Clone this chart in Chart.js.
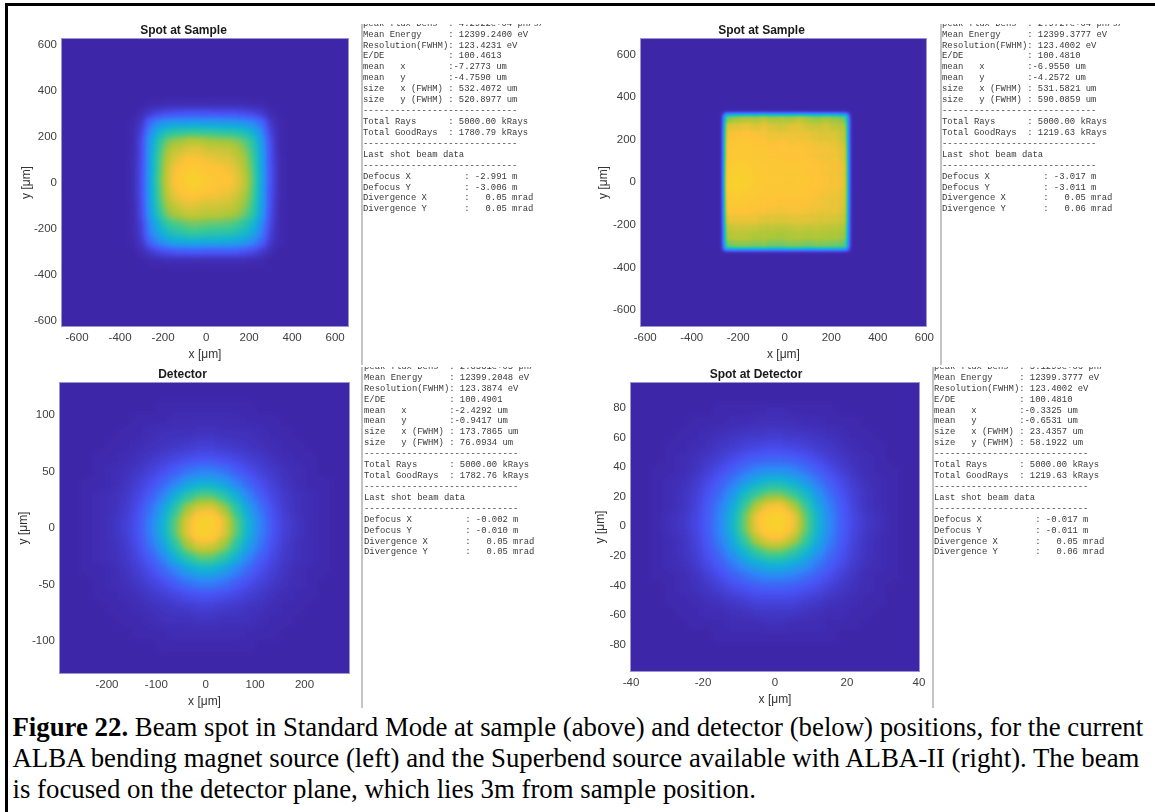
<!DOCTYPE html>
<html>
<head>
<meta charset="utf-8">
<title>Figure 22</title>
<script src="https://cdn.jsdelivr.net/npm/chart.js@4/dist/chart.umd.js"></script>
<style>
  html, body { margin: 0; padding: 0; background: #fff; }
  body { position: relative; width: 1155px; height: 812px; overflow: hidden; }
  .edge { position: absolute; background: #000; }
  .rule { position: absolute; background: #c4c4c4; width: 2px; }
  .panel { position: absolute; }
  .readout { position: absolute; overflow: hidden; width: 200px; height: 230px; }
  .readout pre {
    position: absolute; left: 0; margin: 0;
    font: 8.9px/10.92px "Liberation Mono", monospace;
    color: #3a3a3a; filter: blur(0.3px);
  }
  #caption {
    position: absolute; left: 12.5px; top: 712.3px; white-space: nowrap;
    font: 26.8px/30.7px "Liberation Serif", serif; color: #000;
  }
</style>
</head>
<body>
<div class="edge" style="left:5px;top:3px;width:1150px;height:2.5px"></div>
<div class="edge" style="left:5px;top:3px;width:2.5px;height:809px"></div>
<div class="rule" style="left:361px;top:24px;height:341px"></div>
<div class="rule" style="left:361px;top:367px;height:341px"></div>
<div class="rule" style="left:940px;top:24px;height:341px"></div>
<div class="rule" style="left:932px;top:367px;height:341px"></div>

<canvas class="panel" id="sampleBending" style="left:19px;top:20px" width="341" height="342"></canvas>
<canvas class="panel" id="sampleSuperbend" style="left:596px;top:20px" width="343" height="342"></canvas>
<canvas class="panel" id="detectorBending" style="left:16px;top:364px" width="345" height="345"></canvas>
<canvas class="panel" id="detectorSuperbend" style="left:593px;top:364px" width="338" height="343"></canvas>

<div class="readout" style="left:363px;top:24px"><pre id="readout1" style="top:-5.3px"></pre></div>
<div class="readout" style="left:942px;top:24px"><pre id="readout2" style="top:-5.3px"></pre></div>
<div class="readout" style="left:364px;top:367px"><pre id="readout3" style="top:-5.2px"></pre></div>
<div class="readout" style="left:934px;top:367px"><pre id="readout4" style="top:-5.2px"></pre></div>

<div id="caption"><b>Figure 22.</b> Beam spot in Standard Mode at sample (above) and detector (below) positions, for the current<br>ALBA bending magnet source (left) and the Superbend source available with ALBA-II (right). The beam<br>is focused on the detector plane, which lies 3m from sample position.</div>

<script>
// tick labels of the four plots
const sampleBendingXTicks = [-600, -400, -200, 0, 200, 400, 600];
const sampleBendingYTicks = [-600, -400, -200, 0, 200, 400, 600];
const sampleSuperbendXTicks = [-600, -400, -200, 0, 200, 400, 600];
const sampleSuperbendYTicks = [-600, -400, -200, 0, 200, 400, 600];
const detectorBendingXTicks = [-200, -100, 0, 100, 200];
const detectorBendingYTicks = [-100, -50, 0, 50, 100];
const detectorSuperbendXTicks = [-40, -20, 0, 20, 40];
const detectorSuperbendYTicks = [-80, -60, -40, -20, 0, 20, 40, 60, 80];

// intensity, 0-100, rows from top to bottom
const sampleBendingGrid = [
  [0, 0, 1, 1, 2, 2, 2, 2, 2, 2, 2, 2, 2, 2, 1, 1, 0, 0],
  [0, 2, 6, 9, 11, 12, 13, 13, 13, 13, 12, 12, 12, 10, 9, 6, 2, 0],
  [1, 5, 19, 27, 30, 31, 31, 32, 31, 31, 31, 30, 29, 28, 25, 18, 5, 1],
  [1, 8, 26, 38, 45, 48, 49, 50, 49, 49, 48, 47, 46, 43, 37, 25, 8, 1],
  [1, 10, 31, 47, 57, 61, 63, 65, 64, 62, 62, 61, 59, 54, 46, 30, 10, 1],
  [1, 10, 32, 50, 62, 67, 69, 71, 70, 68, 68, 67, 64, 59, 49, 32, 11, 1],
  [2, 10, 33, 52, 65, 71, 75, 75, 74, 73, 71, 71, 67, 62, 51, 33, 11, 2],
  [2, 11, 33, 53, 67, 75, 78, 80, 78, 76, 76, 74, 70, 64, 53, 33, 12, 2],
  [2, 11, 34, 54, 68, 76, 81, 84, 81, 79, 77, 77, 72, 66, 54, 34, 12, 2],
  [2, 11, 33, 53, 67, 75, 79, 82, 80, 77, 75, 75, 71, 65, 53, 33, 12, 2],
  [2, 11, 33, 52, 65, 72, 75, 75, 74, 73, 73, 71, 68, 62, 52, 33, 11, 2],
  [1, 10, 32, 50, 62, 67, 70, 71, 69, 69, 68, 68, 65, 60, 50, 32, 11, 1],
  [1, 10, 31, 47, 58, 63, 66, 67, 66, 65, 65, 63, 61, 56, 47, 31, 10, 1],
  [1, 8, 27, 39, 49, 53, 55, 57, 56, 55, 55, 54, 52, 47, 40, 26, 9, 1],
  [1, 7, 24, 34, 42, 46, 48, 50, 49, 48, 47, 47, 44, 41, 34, 23, 7, 1],
  [1, 5, 17, 25, 31, 34, 35, 36, 35, 35, 35, 34, 33, 30, 25, 16, 5, 1],
  [0, 2, 6, 10, 12, 14, 14, 15, 15, 14, 14, 14, 14, 12, 10, 6, 2, 0],
  [0, 0, 1, 1, 2, 2, 2, 2, 2, 2, 2, 2, 2, 2, 1, 1, 0, 0]
];
const sampleSuperbendGrid = [
  [58, 61, 63, 62, 65, 62, 63, 62, 65, 62, 60, 62, 60, 57],
  [70, 71, 72, 70, 72, 70, 68, 70, 71, 68, 68, 69, 66, 64],
  [74, 75, 76, 75, 74, 73, 73, 73, 72, 72, 71, 70, 70, 66],
  [76, 78, 78, 77, 77, 75, 76, 74, 75, 74, 73, 73, 72, 68],
  [77, 79, 79, 78, 78, 77, 76, 76, 76, 75, 74, 74, 73, 70],
  [79, 80, 80, 78, 78, 78, 77, 76, 77, 76, 75, 74, 74, 71],
  [80, 82, 81, 80, 79, 78, 78, 78, 78, 76, 76, 75, 74, 72],
  [82, 84, 82, 80, 80, 79, 78, 78, 78, 77, 77, 75, 74, 72],
  [82, 84, 82, 80, 79, 78, 78, 77, 78, 77, 76, 75, 74, 72],
  [80, 81, 80, 79, 78, 78, 77, 77, 77, 76, 75, 74, 73, 71],
  [78, 78, 78, 77, 76, 76, 75, 75, 75, 75, 74, 73, 72, 70],
  [76, 76, 76, 75, 75, 74, 73, 74, 74, 73, 73, 72, 72, 69],
  [72, 72, 72, 72, 71, 71, 70, 71, 71, 71, 70, 70, 69, 67],
  [67, 68, 67, 67, 66, 66, 65, 66, 67, 66, 67, 66, 65, 63],
  [64, 65, 65, 63, 64, 63, 62, 63, 64, 63, 64, 63, 63, 61],
  [57, 59, 59, 58, 59, 57, 57, 58, 58, 57, 58, 58, 57, 55]
];
const detectorBendingGrid = [
  [0, 0, 0, 0, 0, 0, 1, 1, 1, 1, 1, 1, 1, 1, 0, 0, 0, 0, 0, 0],
  [0, 0, 0, 0, 1, 1, 1, 2, 2, 2, 2, 2, 2, 1, 1, 1, 0, 0, 0, 0],
  [0, 0, 0, 1, 1, 2, 3, 3, 3, 4, 4, 3, 3, 3, 2, 1, 1, 0, 0, 0],
  [0, 0, 1, 1, 2, 3, 4, 5, 6, 7, 7, 6, 5, 4, 3, 2, 1, 1, 0, 0],
  [0, 1, 1, 2, 3, 5, 7, 9, 11, 12, 12, 11, 9, 7, 5, 3, 2, 1, 1, 0],
  [0, 1, 2, 3, 5, 8, 11, 15, 20, 23, 23, 20, 15, 11, 8, 5, 3, 2, 1, 0],
  [1, 1, 2, 4, 7, 11, 17, 24, 32, 37, 37, 32, 24, 17, 11, 7, 4, 2, 1, 1],
  [1, 2, 3, 5, 9, 15, 24, 37, 47, 54, 54, 47, 37, 24, 15, 9, 5, 3, 2, 1],
  [1, 2, 3, 6, 11, 20, 32, 47, 62, 70, 71, 62, 47, 32, 20, 11, 6, 3, 2, 1],
  [1, 2, 4, 7, 12, 23, 37, 54, 70, 83, 84, 71, 54, 37, 23, 12, 7, 4, 2, 1],
  [1, 2, 4, 7, 12, 23, 37, 54, 71, 84, 82, 70, 54, 37, 23, 12, 7, 4, 2, 1],
  [1, 2, 3, 6, 11, 20, 32, 47, 62, 70, 69, 61, 47, 32, 20, 11, 6, 3, 2, 1],
  [1, 2, 3, 5, 9, 15, 24, 37, 47, 54, 54, 47, 37, 24, 15, 9, 5, 3, 2, 1],
  [1, 1, 2, 4, 7, 11, 17, 24, 32, 37, 37, 32, 24, 17, 11, 7, 4, 2, 1, 1],
  [0, 1, 2, 3, 5, 8, 11, 15, 20, 23, 23, 20, 15, 11, 8, 5, 3, 2, 1, 0],
  [0, 1, 1, 2, 3, 5, 7, 9, 11, 12, 12, 11, 9, 7, 5, 3, 2, 1, 1, 0],
  [0, 0, 1, 1, 2, 3, 4, 5, 6, 7, 7, 6, 5, 4, 3, 2, 1, 1, 0, 0],
  [0, 0, 0, 1, 1, 2, 3, 3, 3, 4, 4, 3, 3, 3, 2, 1, 1, 0, 0, 0],
  [0, 0, 0, 0, 1, 1, 1, 2, 2, 2, 2, 2, 2, 1, 1, 1, 0, 0, 0, 0],
  [0, 0, 0, 0, 0, 0, 1, 1, 1, 1, 1, 1, 1, 1, 0, 0, 0, 0, 0, 0]
];
const detectorSuperbendGrid = [
  [0, 0, 0, 0, 0, 1, 1, 1, 1, 2, 2, 1, 1, 1, 1, 0, 0, 0, 0, 0],
  [0, 0, 0, 1, 1, 1, 2, 2, 3, 3, 3, 3, 2, 2, 1, 1, 1, 0, 0, 0],
  [0, 0, 1, 1, 2, 3, 4, 5, 5, 6, 6, 5, 5, 4, 3, 2, 1, 1, 0, 0],
  [0, 1, 1, 2, 3, 5, 6, 8, 9, 10, 10, 9, 8, 6, 5, 3, 2, 1, 1, 0],
  [0, 1, 2, 3, 5, 7, 10, 13, 15, 16, 16, 15, 13, 10, 7, 5, 3, 2, 1, 0],
  [1, 1, 2, 4, 7, 11, 15, 20, 25, 27, 27, 25, 20, 15, 11, 7, 4, 2, 1, 1],
  [1, 2, 3, 6, 10, 15, 22, 30, 37, 41, 41, 37, 30, 22, 15, 10, 6, 3, 2, 1],
  [1, 2, 4, 7, 12, 19, 29, 41, 50, 56, 56, 50, 41, 29, 19, 12, 7, 4, 2, 1],
  [1, 2, 4, 8, 14, 23, 35, 50, 64, 73, 74, 64, 50, 35, 23, 14, 8, 4, 2, 1],
  [1, 3, 5, 9, 15, 25, 39, 56, 74, 84, 85, 74, 56, 39, 25, 15, 9, 5, 3, 1],
  [1, 3, 5, 9, 15, 25, 39, 56, 73, 83, 84, 73, 56, 39, 25, 15, 9, 5, 3, 1],
  [1, 2, 4, 8, 14, 23, 35, 49, 63, 71, 71, 63, 50, 35, 23, 14, 8, 4, 2, 1],
  [1, 2, 4, 7, 12, 19, 29, 39, 48, 54, 54, 48, 39, 29, 19, 12, 7, 4, 2, 1],
  [1, 2, 3, 6, 10, 15, 21, 29, 35, 38, 38, 35, 29, 21, 15, 10, 6, 3, 2, 1],
  [1, 1, 2, 4, 7, 11, 15, 19, 23, 25, 25, 23, 19, 15, 11, 7, 4, 2, 1, 1],
  [0, 1, 2, 3, 5, 7, 10, 12, 14, 15, 15, 14, 12, 10, 7, 5, 3, 2, 1, 0],
  [0, 1, 1, 2, 3, 4, 6, 7, 9, 9, 9, 9, 7, 6, 4, 3, 2, 1, 1, 0],
  [0, 0, 1, 1, 2, 2, 3, 4, 5, 5, 5, 5, 4, 3, 2, 2, 1, 1, 0, 0],
  [0, 0, 0, 1, 1, 1, 2, 2, 2, 3, 3, 2, 2, 2, 1, 1, 1, 0, 0, 0],
  [0, 0, 0, 0, 0, 1, 1, 1, 1, 1, 1, 1, 1, 1, 1, 0, 0, 0, 0, 0]
];

const readoutLines = (peak, energy, res, de, mx, my, sx, sy, good, dx, dy, vx, vy) => [
  'peak flux Dens  : ' + peak,
  'Mean Energy     : ' + energy + ' eV',
  'Resolution(FWHM): ' + res + ' eV',
  'E/DE            : ' + de,
  'mean   x        :' + mx + ' um',
  'mean   y        :' + my + ' um',
  'size   x (FWHM) : ' + sx + ' um',
  'size   y (FWHM) : ' + sy + ' um',
  '-----------------------------',
  'Total Rays      : 5000.00 kRays',
  'Total GoodRays  : ' + good + ' kRays',
  '-----------------------------',
  'Last shot beam data',
  '-----------------------------',
  'Defocus X          : ' + dx + ' m',
  'Defocus Y          : ' + dy + ' m',
  'Divergence X       :   ' + vx + ' mrad',
  'Divergence Y       :   ' + vy + ' mrad'
].join('\n');

document.getElementById('readout1').textContent = readoutLines('4.2922e+04 ph/s/', '12399.2400', '123.4231', '100.4613', '-7.2773', '-4.7590', '532.4072', '520.8977', '1780.79', '-2.991', '-3.006', '0.05', '0.05');
document.getElementById('readout2').textContent = readoutLines('2.9727e+04 ph/s/', '12399.3777', '123.4002', '100.4810', '-6.9550', '-4.2572', '531.5821', '590.0859', '1219.63', '-3.017', '-3.011', '0.05', '0.06');
document.getElementById('readout3').textContent = readoutLines('2.8581e+05 ph/', '12399.2048', '123.3874', '100.4901', '-2.4292', '-0.9417', '173.7865', '76.0934', '1782.76', '-0.002', '-0.010', '0.05', '0.05');
document.getElementById('readout4').textContent = readoutLines('5.1299e+06 ph/', '12399.3777', '123.4002', '100.4810', '-0.3325', '-0.6531', '23.4357', '58.1922', '1219.63', '-0.017', '-0.011', '0.05', '0.06');

// parula colormap stops
const parula = [[62, 38, 168], [72, 82, 244], [45, 135, 247], [18, 177, 214], [55, 200, 151], [171, 199, 57], [254, 195, 56], [245, 215, 40], [249, 251, 21]];
const lut = [];
for (let g = 0; g < 256; g++) {
  const t = g / 255 * (parula.length - 1);
  const i = Math.min(Math.floor(t), parula.length - 2);
  const f = t - i;
  lut.push(parula[i].map((c, k) => Math.round(c + (parula[i + 1][k] - c) * f)));
}

// paints the cells through the scales, softens them and applies the colormap
const heatmapPlugin = {
  id: 'heatmap',
  beforeDatasetsDraw(chart) {
    const { ctx, width, height, chartArea, scales: { x, y } } = chart;
    const ds = chart.data.datasets[0];

    const raw = document.createElement('canvas');
    raw.width = width;
    raw.height = height;
    const rawCtx = raw.getContext('2d');
    rawCtx.fillStyle = '#000';
    rawCtx.fillRect(0, 0, width, height);
    ds.data.forEach(cell => {
      const left = x.getPixelForValue(cell.x - ds.cellW / 2);
      const right = x.getPixelForValue(cell.x + ds.cellW / 2);
      const top = y.getPixelForValue(cell.y + ds.cellH / 2);
      const bottom = y.getPixelForValue(cell.y - ds.cellH / 2);
      const g = Math.round(cell.v * 2.55);
      rawCtx.fillStyle = 'rgb(' + g + ',' + g + ',' + g + ')';
      rawCtx.fillRect(left, top, right - left + 0.5, bottom - top + 0.5);
    });

    const soft = document.createElement('canvas');
    soft.width = width;
    soft.height = height;
    const softCtx = soft.getContext('2d', { willReadFrequently: true });
    softCtx.filter = 'blur(' + ds.softness + 'px)';
    softCtx.drawImage(raw, 0, 0);
    softCtx.filter = 'none';
    const img = softCtx.getImageData(0, 0, width, height);
    for (let p = 0; p < img.data.length; p += 4) {
      const c = lut[img.data[p]];
      img.data[p] = c[0];
      img.data[p + 1] = c[1];
      img.data[p + 2] = c[2];
      img.data[p + 3] = 255;
    }
    softCtx.putImageData(img, 0, 0);

    ctx.save();
    ctx.beginPath();
    ctx.rect(chartArea.left, chartArea.top, chartArea.right - chartArea.left, chartArea.bottom - chartArea.top);
    ctx.clip();
    ctx.drawImage(soft, 0, 0);
    ctx.restore();
    ctx.strokeStyle = '#9a96cc';
    ctx.lineWidth = 1;
    ctx.strokeRect(chartArea.left - 0.5, chartArea.top - 0.5, chartArea.right - chartArea.left + 1, chartArea.bottom - chartArea.top + 1);
  }
};

function gridToCells(grid, xStart, xStep, yStart, yStep) {
  const cells = [];
  grid.forEach((row, r) => {
    row.forEach((v, c) => {
      cells.push({
        x: xStart + xStep * (c + 0.5),
        y: yStart + yStep * (grid.length - r - 0.5),
        v: v
      });
    });
  });
  return cells;
}

function makePanel(id, opt) {
  new Chart(document.getElementById(id), {
    type: 'scatter',
    data: {
      datasets: [{
        data: gridToCells(opt.grid, opt.xStart, opt.xStep, opt.yStart, opt.yStep),
        cellW: opt.xStep,
        cellH: opt.yStep,
        softness: opt.softness,
        pointRadius: 0
      }]
    },
    plugins: [heatmapPlugin],
    options: {
      responsive: false,
      animation: false,
      events: [],
      layout: { padding: { right: 12 } },
      plugins: {
        legend: { display: false },
        tooltip: { enabled: false },
        title: {
          display: true,
          text: opt.title,
          color: '#1a1a1a',
          font: { family: '"Liberation Sans"', size: 12, weight: 'bold', lineHeight: 1.2 },
          padding: { top: 3, bottom: 1.6 }
        }
      },
      scales: {
        x: {
          type: 'linear',
          min: opt.xMin,
          max: opt.xMax,
          grid: { display: false, drawTicks: false },
          border: { display: false },
          afterBuildTicks: s => { s.ticks = opt.xTicks.map(v => ({ value: v })); },
          afterFit: s => { s.height = 36; },
          ticks: {
            autoSkip: false,
            maxRotation: 0,
            padding: 5,
            color: '#404040',
            font: { family: '"Liberation Sans"', size: 11.5 },
            callback: v => String(v)
          },
          title: {
            display: true,
            text: 'x [μm]',
            color: '#333',
            padding: 0,
            font: { family: '"Liberation Sans"', size: 12 }
          }
        },
        y: {
          type: 'linear',
          min: opt.yMin,
          max: opt.yMax,
          grid: { display: false, drawTicks: false },
          border: { display: false },
          afterBuildTicks: s => { s.ticks = opt.yTicks.map(v => ({ value: v })); },
          afterFit: s => { s.width = opt.axisWidth; },
          ticks: {
            autoSkip: false,
            padding: 5,
            color: '#404040',
            font: { family: '"Liberation Sans"', size: 11.5 },
            callback: v => String(v)
          },
          title: {
            display: true,
            text: 'y [μm]',
            color: '#333',
            padding: 0,
            font: { family: '"Liberation Sans"', size: 12 }
          }
        }
      }
    }
  });
}

makePanel('sampleBending', {
  title: 'Spot at Sample', grid: sampleBendingGrid, axisWidth: 43, softness: 3,
  xStart: -360, xStep: 40, yStart: -360, yStep: 40,
  xMin: -670, xMax: 660, yMin: -624, yMax: 624,
  xTicks: sampleBendingXTicks, yTicks: sampleBendingYTicks
});
makePanel('sampleSuperbend', {
  title: 'Spot at Sample', grid: sampleSuperbendGrid, axisWidth: 45, softness: 2,
  xStart: -261, xStep: 38, yStart: -314, yStep: 39.6,
  xMin: -618, xMax: 607, yMin: -675, yMax: 672,
  xTicks: sampleSuperbendXTicks, yTicks: sampleSuperbendYTicks
});
makePanel('detectorBending', {
  title: 'Detector', grid: detectorBendingGrid, axisWidth: 44, softness: 4,
  xStart: -250, xStep: 25, yStart: -109, yStep: 11,
  xMin: -295, xMax: 290, yMin: -128, yMax: 128,
  xTicks: detectorBendingXTicks, yTicks: detectorBendingYTicks
});
makePanel('detectorSuperbend', {
  title: 'Spot at Detector', grid: detectorSuperbendGrid, axisWidth: 38, softness: 4,
  xStart: -34, xStep: 3.4, yStart: -78, yStep: 8,
  xMin: -40, xMax: 40, yMin: -98, yMax: 97,
  xTicks: detectorSuperbendXTicks, yTicks: detectorSuperbendYTicks
});
</script>
</body>
</html>
